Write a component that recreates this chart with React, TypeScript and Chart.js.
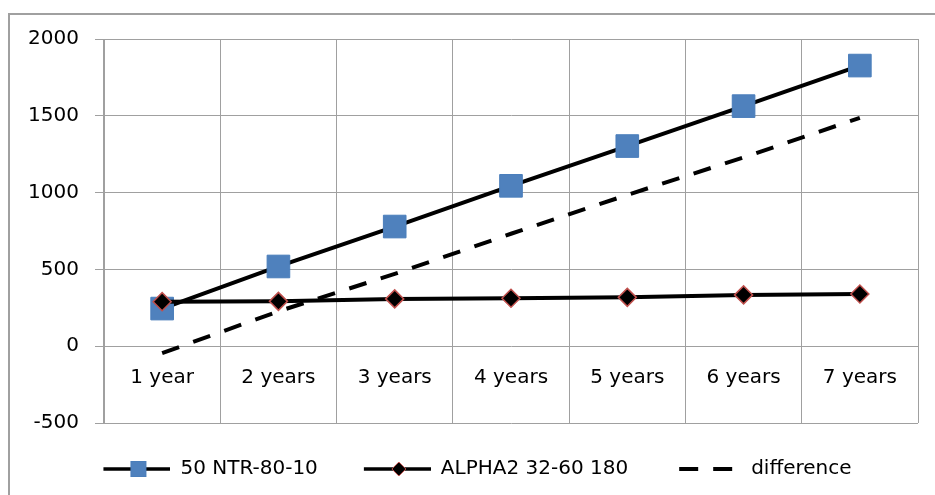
import React, { useEffect, useRef } from 'react';
import { Chart, registerables } from 'chart.js';

Chart.register(...registerables);

const categories = ['1 year', '2 years', '3 years', '4 years', '5 years', '6 years', '7 years'];
const ntrValues = [245, 519, 779, 1044, 1303, 1563, 1827];
const alphaValues = [290, 292, 308, 312, 318, 334, 340];
const differenceValues = [-45, 227, 471, 732, 985, 1229, 1487];
const seriesNames = ['50 NTR-80-10', 'ALPHA2 32-60 180', 'difference'];
const yMin = -500;
const yMax = 2000;
const yStep = 500;

const FONT = "'DejaVu Sans', sans-serif";
const GRID = '#a0a0a0';
const BLUE = '#4f81bd';
const BLUE_EDGE = '#4a7ebb';
const RED_EDGE = '#c0504d';
const SAMPLE_W = 103;

function makeSample(kind: string): HTMLCanvasElement {
  const c = document.createElement('canvas');
  c.width = SAMPLE_W;
  c.height = 20;
  const ctx = c.getContext('2d') as CanvasRenderingContext2D;
  const cy = 10;
  ctx.strokeStyle = '#000';
  ctx.lineWidth = 3.5;
  if (kind === 'ntr' || kind === 'alpha') {
    ctx.beginPath();
    ctx.moveTo(36, cy);
    ctx.lineTo(SAMPLE_W, cy);
    ctx.stroke();
    const cx = 71;
    if (kind === 'ntr') {
      ctx.fillStyle = BLUE;
      ctx.fillRect(cx - 7.5, cy - 7.5, 15, 15);
      ctx.strokeStyle = BLUE_EDGE;
      ctx.lineWidth = 1;
      ctx.strokeRect(cx - 7.5, cy - 7.5, 15, 15);
    } else {
      ctx.beginPath();
      ctx.moveTo(cx - 7, cy);
      ctx.lineTo(cx, cy - 7);
      ctx.lineTo(cx + 7, cy);
      ctx.lineTo(cx, cy + 7);
      ctx.closePath();
      ctx.fillStyle = '#000';
      ctx.fill();
      ctx.strokeStyle = RED_EDGE;
      ctx.lineWidth = 1;
      ctx.stroke();
    }
  } else {
    ctx.lineWidth = 4;
    ctx.beginPath();
    ctx.moveTo(41, cy);
    ctx.lineTo(60, cy);
    ctx.moveTo(75, cy);
    ctx.lineTo(94, cy);
    ctx.stroke();
  }
  return c;
}

const framePlugin = {
  id: 'outerFrame',
  beforeDraw(chart: any) {
    const ctx = chart.ctx as CanvasRenderingContext2D;
    ctx.save();
    ctx.fillStyle = '#fff';
    ctx.fillRect(0, 0, chart.width, chart.height);
    ctx.strokeStyle = GRID;
    ctx.lineWidth = 2;
    ctx.beginPath();
    ctx.moveTo(chart.width, 14);
    ctx.lineTo(9, 14);
    ctx.lineTo(9, chart.height);
    ctx.stroke();
    ctx.restore();
  },
};

export default function App() {
  const ref = useRef<HTMLCanvasElement | null>(null);

  useEffect(() => {
    if (!ref.current) return;
    const samples = [makeSample('ntr'), makeSample('alpha'), makeSample('diff')];
    const chart = new Chart(ref.current, {
      type: 'line',
      plugins: [framePlugin],
      data: {
        labels: categories,
        datasets: [
          {
            label: seriesNames[0],
            data: ntrValues,
            xAxisID: 'x',
            yAxisID: 'y',
            borderColor: '#000',
            borderWidth: 4,
            pointStyle: 'rect',
            pointRadius: 16,
            pointHoverRadius: 16,
            pointBackgroundColor: BLUE,
            pointBorderColor: BLUE_EDGE,
            pointBorderWidth: 1,
            tension: 0,
            fill: false,
            order: 3,
          },
          {
            label: seriesNames[1],
            data: alphaValues,
            xAxisID: 'x',
            yAxisID: 'y',
            borderColor: '#000',
            borderWidth: 4,
            pointStyle: 'rectRot',
            pointRadius: 9,
            pointHoverRadius: 9,
            pointBackgroundColor: '#000',
            pointBorderColor: RED_EDGE,
            pointBorderWidth: 1.5,
            tension: 0,
            fill: false,
            order: 2,
          },
          {
            label: seriesNames[2],
            data: differenceValues,
            xAxisID: 'x',
            yAxisID: 'y',
            borderColor: '#000',
            borderWidth: 4,
            borderDash: [18, 15],
            borderCapStyle: 'butt',
            pointRadius: 0,
            pointHoverRadius: 0,
            tension: 0,
            fill: false,
            order: 1,
          },
        ],
      },
      options: {
        responsive: false,
        animation: false,
        events: [],
        layout: { padding: { top: 39, right: 16, bottom: 6, left: 0 } },
        plugins: {
          tooltip: { enabled: false },
          legend: {
            display: true,
            position: 'bottom',
            align: 'center',
            labels: {
              usePointStyle: true,
              pointStyleWidth: SAMPLE_W,
              boxHeight: 20,
              padding: 10,
              color: '#000',
              font: { family: FONT, size: 20 },
              generateLabels: () =>
                seriesNames.map((name, i) => ({
                  text: name,
                  pointStyle: samples[i],
                  datasetIndex: i,
                  hidden: false,
                  fillStyle: '#000',
                  strokeStyle: '#000',
                  lineWidth: 0,
                  fontColor: '#000',
                })),
            },
          },
        },
        scales: {
          x: {
            type: 'category',
            position: { y: 0 },
            offset: true,
            grid: {
              display: true,
              offset: true,
              color: GRID,
              lineWidth: 1,
              drawTicks: false,
            },
            border: { display: false },
            ticks: {
              color: '#000',
              font: { family: FONT, size: 20 },
              padding: 20,
              maxRotation: 0,
              autoSkip: false,
            },
          },
          xb: {
            type: 'category',
            position: 'bottom',
            display: true,
            grid: { display: false, drawTicks: false },
            border: { display: false },
            ticks: { display: false },
            afterFit: (s: any) => {
              s.height = 26;
            },
          },
          y: {
            type: 'linear',
            position: 'left',
            min: yMin,
            max: yMax,
            grid: {
              color: GRID,
              lineWidth: 1,
              drawTicks: true,
              tickLength: 9,
            },
            border: { display: true, color: GRID, width: 1 },
            ticks: {
              stepSize: yStep,
              color: '#000',
              font: { family: FONT, size: 20 },
              padding: 16,
              callback: (v: any) => String(v),
            },
            afterFit: (s: any) => {
              s.width = 104;
            },
          },
        },
      },
    });
    return () => chart.destroy();
  }, []);

  return (
    <canvas
      ref={ref}
      width={935}
      height={495}
      style={{ position: 'fixed', left: 0, top: 0, display: 'block' }}
    />
  );
}
